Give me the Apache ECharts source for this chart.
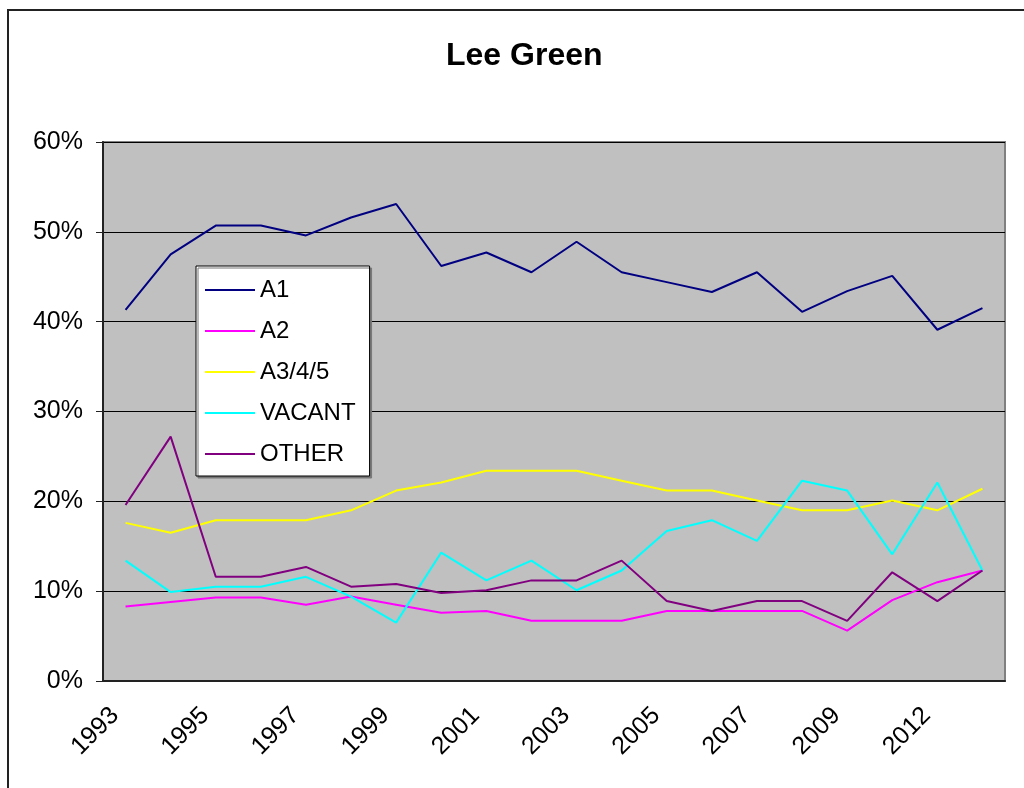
<!DOCTYPE html>
<html>
<head>
<meta charset="utf-8">
<script src="https://cdn.jsdelivr.net/npm/echarts@6/dist/echarts.min.js"></script>
<style>
  html, body { margin: 0; padding: 0; background: #fff; }
  #chart { width: 1024px; height: 788px; }
</style>
</head>
<body>
<div id="chart"></div>
<script>
  // years on the x axis (only every other one is labelled)
  var years = ['1993','1994','1995','1996','1997','1998','1999','2000','2001','2002',
               '2003','2004','2005','2006','2007','2008','2009','2011','2012','2013']

  var seriesNames = ['A1', 'A2', 'A3/4/5', 'VACANT', 'OTHER']
  var seriesColors = ['#000080', '#ff00ff', '#ffff00', '#00ffff', '#800080']

  var a1     = [41.3, 47.5, 50.7, 50.7, 49.6, 51.6, 53.1, 46.2, 47.7, 45.5, 48.9, 45.5, 44.4, 43.3, 45.5, 41.1, 43.4, 45.1, 39.1, 41.5]
  var a2     = [8.3, 8.8, 9.3, 9.3, 8.5, 9.4, 8.5, 7.6, 7.8, 6.7, 6.7, 6.7, 7.8, 7.8, 7.8, 7.8, 5.6, 9.0, 11.0, 12.3]
  var a345   = [17.6, 16.5, 17.9, 17.9, 17.9, 19.0, 21.2, 22.1, 23.4, 23.4, 23.4, 22.3, 21.2, 21.2, 20.1, 19.0, 19.0, 20.1, 19.0, 21.4]
  var vacant = [13.4, 9.9, 10.5, 10.5, 11.6, 9.4, 6.5, 14.3, 11.2, 13.4, 10.1, 12.3, 16.7, 17.9, 15.6, 22.3, 21.2, 14.1, 22.1, 12.3]
  var other  = [19.6, 27.2, 11.6, 11.6, 12.7, 10.5, 10.8, 9.8, 10.1, 11.2, 11.2, 13.4, 8.9, 7.8, 8.9, 8.9, 6.7, 12.1, 8.9, 12.3]

  var allData = [a1, a2, a345, vacant, other]

  var font = 'Liberation Sans, Arial, sans-serif'

  var series = []
  for (var i = 0; i < seriesNames.length; i++) {
    series.push({
      name: seriesNames[i],
      type: 'line',
      data: allData[i],
      symbol: 'none',
      lineStyle: { color: seriesColors[i], width: 2 },
      itemStyle: { color: seriesColors[i] }
    })
  }

  var mychart = echarts.init(document.getElementById('chart'))
  mychart.setOption({
    animation: false,
    title: {
      text: 'Lee Green',
      left: 441,
      top: 35,
      textStyle: { fontFamily: font, fontSize: 32, fontWeight: 'bold', color: '#000' }
    },
    graphic: [{
      type: 'rect',
      shape: { x: 8, y: 10, width: 1100, height: 900 },
      style: { fill: 'none', stroke: '#222', lineWidth: 2 },
      silent: true
    }],
    legend: {
      orient: 'vertical',
      left: 196,
      top: 266,
      data: seriesNames.map(function (n) { return { name: n, icon: 'rect' } }),
      itemWidth: 50,
      itemHeight: 2,
      itemGap: 17,
      padding: [12, 14, 10, 9],
      backgroundColor: '#fff',
      borderColor: '#000',
      borderWidth: 1,
      shadowColor: '#777',
      shadowOffsetX: 2,
      shadowOffsetY: 2,
      shadowBlur: 0,
      textStyle: { fontFamily: font, fontSize: 24, color: '#000' }
    },
    grid: {
      left: 103,
      right: 19,
      top: 142,
      bottom: 107,
      show: true,
      backgroundColor: '#c0c0c0',
      borderColor: '#808080',
      borderWidth: 2
    },
    xAxis: {
      type: 'category',
      data: years,
      boundaryGap: true,
      axisLine: { lineStyle: { color: '#222', width: 2 } },
      axisTick: { interval: 0, length: 8, lineStyle: { color: '#222', width: 2 } },
      axisLabel: {
        interval: 1,
        rotate: 45,
        margin: 20,
        padding: [0, 15, 0, 0],
        fontFamily: font,
        fontSize: 25,
        color: '#000'
      }
    },
    yAxis: {
      type: 'value',
      min: 0,
      max: 60,
      interval: 10,
      axisLine: { show: true, lineStyle: { color: '#222', width: 2 } },
      axisTick: { show: true, length: 7, lineStyle: { color: '#222', width: 1 } },
      splitLine: { lineStyle: { color: '#000', width: 1 } },
      axisLabel: {
        formatter: '{value}%',
        margin: 20,
        fontFamily: font,
        fontSize: 25,
        color: '#000'
      }
    },
    series: series
  })
</script>
</body>
</html>
